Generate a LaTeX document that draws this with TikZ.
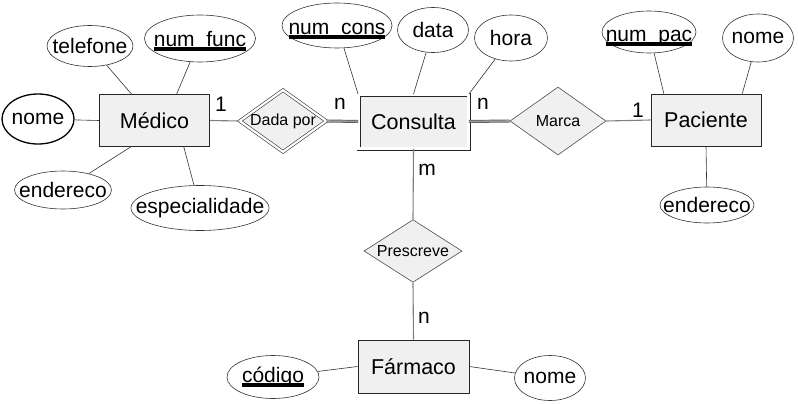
\documentclass[tikz,border=0pt]{standalone}
\usepackage{fontspec}
\setmainfont{Liberation Sans}
\usetikzlibrary{shapes.geometric}
\newcommand{\keyattr}[2][0pt]{\raisebox{-#1}[\height][\depth]{\vtop{\hbox{\raisebox{0pt}[\height][0pt]{#2}}\kern0.4pt\hrule height 4pt}}}
\newcommand{\attrtext}[1]{\makebox[0pt]{#1}}
\begin{document}
\begin{tikzpicture}[x=1pt,y=1pt,yscale=-1,
  entity/.style={draw=black!85, fill=black!6, line width=0.7pt, minimum width=110pt, minimum height=52pt, inner sep=0pt, font=\fontsize{21.5}{25}\selectfont},
  weakentity/.style={entity, double, double distance=2.4pt, line width=0.8pt},
  relation/.style={diamond, draw=black!70, fill=black!6, line width=0.6pt, inner sep=0pt, aspect=1.4, font=\fontsize{16}{19}\selectfont},
  weakrelation/.style={relation, double, double distance=2.2pt, draw=black!80},
  attr/.style={ellipse, draw=black!80, fill=white, line width=0.6pt, inner sep=0pt, font=\fontsize{21}{25}\selectfont},
  link/.style={draw=black!80, line width=0.6pt},
  rel/.style={draw=black!50, line width=1.1pt},
  dbl/.style={draw=black!65, double=black!40, double distance=1.6pt, line width=0.7pt},
  card/.style={font=\fontsize{21}{25}\selectfont, inner sep=0pt}]
\useasboundingbox (0,0) rectangle (798,404);

% Entities
\node [entity] (medico) at (154.5,120.5) {Médico};
\node [weakentity, minimum width=110pt, minimum height=54pt] (consulta) at (413.5,121.5) {Consulta};
\node [entity] (paciente) at (706,120) {Paciente};
\node [entity, minimum width=111pt, minimum height=53pt] (farmaco) at (413.5,366.5) {Fármaco};

% Relationships
\node [weakrelation, minimum width=84pt, minimum height=54pt] (dadapor) at (283,121) {Dada por};
\node [relation, minimum width=96pt, minimum height=68pt] (marca) at (558,121) {Marca};
\node [relation, minimum width=98pt, minimum height=55pt] (prescreve) at (413,251) {Prescreve};

% Attributes of Medico
\node [attr, minimum width=86pt, minimum height=41pt] (telefone) at (90,46) {\attrtext{telefone}};
\node [attr, minimum width=111pt, minimum height=47pt] (numfunc) at (200,38.5) {\attrtext{\keyattr[3pt]{num\_func}}};
\node [attr, minimum width=72pt, minimum height=50pt, line width=1.3pt, draw=black] (nomemed) at (38,119) {\attrtext{nome}};
\node [attr, minimum width=97pt, minimum height=38pt] (endmed) at (63,190) {\attrtext{endereco}};
\node [attr, minimum width=138pt, minimum height=45pt] (especialidade) at (200,208) {\attrtext{especialidade}};

% Attributes of Consulta
\node [attr, minimum width=110pt, minimum height=45pt] (numcons) at (337,25.5) {\attrtext{\keyattr[6pt]{num\_cons}}};
\node [attr, minimum width=71pt, minimum height=45pt] (data) at (433,30) {\attrtext{data}};
\node [attr, minimum width=73pt, minimum height=46pt] (hora) at (511,38) {\attrtext{hora}};

% Attributes of Paciente
\node [attr, minimum width=94pt, minimum height=42pt] (numpac) at (649,32) {\attrtext{\keyattr[6.5pt]{num\_pac}}};
\node [attr, minimum width=71pt, minimum height=48pt] (nomepac) at (758,38) {\attrtext{nome}};
\node [attr, minimum width=94pt, minimum height=36pt] (endpac) at (707,205) {\attrtext{endereco}};

% Attributes of Farmaco
\node [attr, minimum width=92pt, minimum height=43pt] (codigo) at (273,377) {\attrtext{\keyattr{código}}};
\node [attr, minimum width=71pt, minimum height=45pt] (nomefar) at (550,378) {\attrtext{nome}};

% Attribute links
\draw [link] (telefone) -- (medico.131);
\draw [link] (numfunc) -- (medico.50);
\draw [link] (nomemed) -- (medico.west);
\draw [link] (endmed) -- (medico.228);
\draw [link] (especialidade) -- (medico.318);
\draw [link] (numcons) -- (consulta.north west);
\draw [link] (data) -- (consulta.north);
\draw [link] (hora) -- (consulta.north east);
\draw [link] (numpac) -- (paciente.148);
\draw [link] (nomepac) -- (paciente.36);
\draw [link] (endpac) -- (paciente.south);
\draw [link] (codigo) -- (farmaco.west);
\draw [link] (nomefar) -- (farmaco.east);

% Relationship links
\draw [rel] (medico.east) -- (dadapor.west);
\draw [dbl] (dadapor.east) -- (consulta.west);
\draw [dbl] (consulta.east) -- (marca.west);
\draw [rel] (marca.east) -- (paciente.west);
\draw [rel] (consulta.south) -- (prescreve.north);
\draw [rel] (prescreve.south) -- (farmaco.north);

% Cardinalities
\node [card] (c1) at (221,104) {1};
\node [card] (c2) at (340,104) {n};
\node [card] (c3) at (483,104) {n};
\node [card] (c4) at (638,110) {1};
\node [card] (c5) at (427,170) {m};
\node [card] (c6) at (424,318) {n};
\end{tikzpicture}
\end{document}
